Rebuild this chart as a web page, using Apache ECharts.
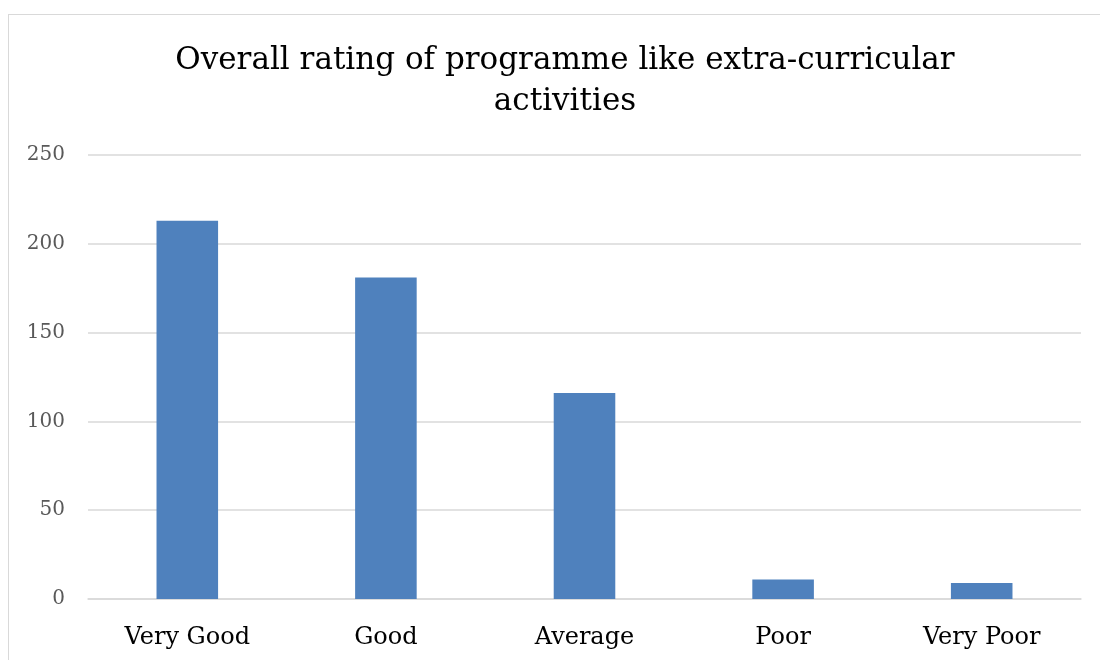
<!DOCTYPE html>
<html>
<head>
<meta charset="utf-8">
<script src="https://cdn.jsdelivr.net/npm/echarts@6/dist/echarts.min.js"></script>
<style>
html,body{margin:0;padding:0;background:#fff;overflow:hidden;}
#wrap{position:relative;width:1100px;height:660px;overflow:hidden;}
#frame{position:absolute;left:8px;top:14px;width:1200px;height:800px;border:1.5px solid #d9d9d9;box-sizing:border-box;}
#chart{position:absolute;left:0;top:0;width:1100px;height:660px;}
</style>
</head>
<body>
<div id="wrap"><div id="frame"></div><div id="chart"></div></div>
<script>
const titleText = 'Overall rating of programme like extra-curricular\nactivities';
const categories = ['Very Good', 'Good', 'Average', 'Poor', 'Very Poor'];
const values = [213, 181, 116, 11, 9];
const yTicks = [0, 50, 100, 150, 200, 250];

const chart = echarts.init(document.getElementById('chart'), null, {renderer: 'canvas'});
chart.setOption({
  animation: false,
  title: {
    text: titleText,
    left: 560,
    top: 35,
    textAlign: 'center',
    textStyle: {
      fontFamily: 'DejaVu Serif',
      fontWeight: 'normal',
      fontSize: 31,
      lineHeight: 41,
      color: '#000'
    }
  },
  grid: {left: 88, right: 19, top: 155, bottom: 61, containLabel: false},
  xAxis: {
    type: 'category',
    data: categories,
    axisLine: {show: true, lineStyle: {color: '#d9d9d9', width: 1.5}},
    axisTick: {show: false},
    axisLabel: {
      fontFamily: 'DejaVu Serif',
      fontSize: 24,
      color: '#000',
      margin: 27
    }
  },
  yAxis: {
    type: 'value',
    min: yTicks[0],
    max: yTicks[yTicks.length - 1],
    interval: 50,
    axisLine: {show: false},
    axisTick: {show: false},
    splitLine: {lineStyle: {color: '#d9d9d9', width: 1.5}},
    axisLabel: {
      fontFamily: 'DejaVu Serif',
      fontSize: 20,
      color: '#595959',
      margin: 23,
      padding: [4, 0, 0, 0]
    }
  },
  series: [{
    type: 'bar',
    data: values,
    barWidth: '31%',
    itemStyle: {color: '#4f81bd'}
  }]
});
</script>
</body>
</html>
